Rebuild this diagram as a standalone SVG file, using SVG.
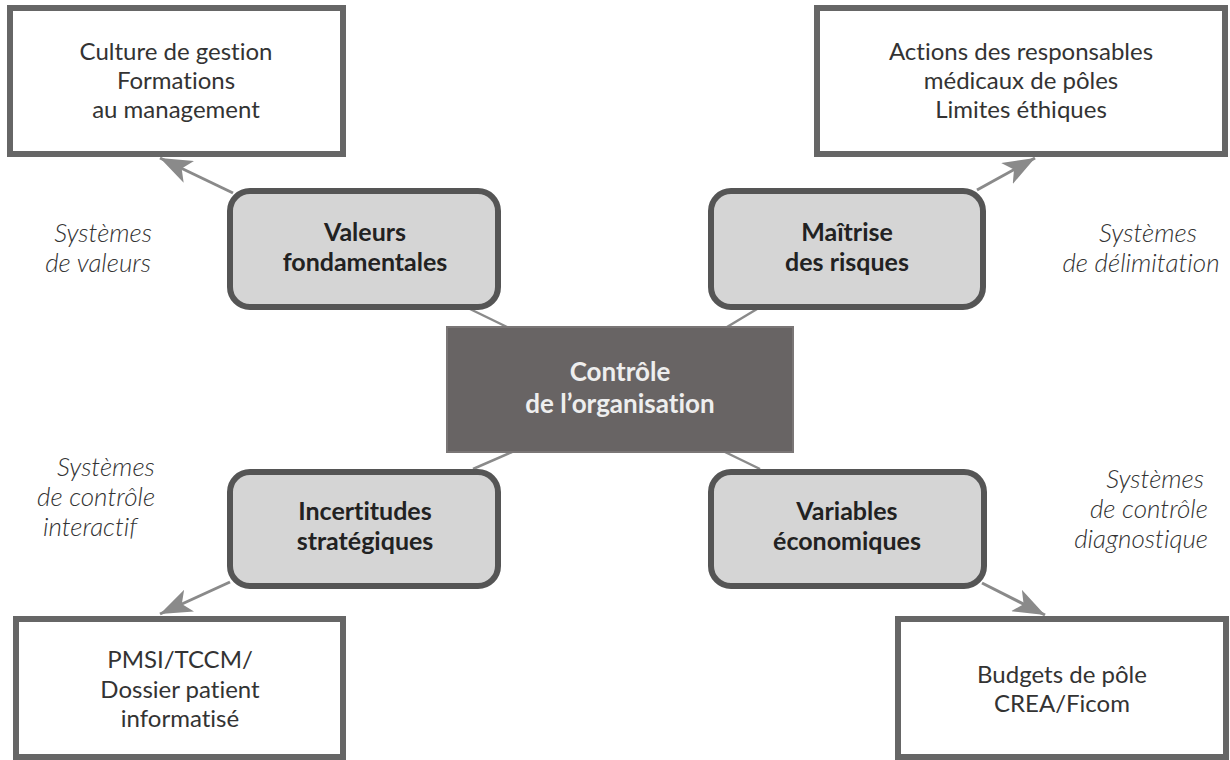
<svg xmlns="http://www.w3.org/2000/svg" width="1230" height="760" viewBox="0 0 1230 760">
  <style>
    text { font-variant-ligatures: none; font-family: Lato, "Open Sans", sans-serif; }
    .outer { fill: #ffffff; stroke: #666666; stroke-width: 6; }
    .inner { fill: #d5d5d5; stroke: #555555; stroke-width: 6; }
    .core { fill: #686464; stroke: #7a7676; stroke-width: 2; }
    .txt { font-size: 24px; fill: #333333; text-anchor: middle; }
    .bold { font-size: 25px; font-weight: bold; fill: #222222; text-anchor: middle; }
    .corelbl { font-size: 26px; font-weight: bold; fill: #eeeeee; text-anchor: middle; }
    .ital { font-size: 26px; font-style: italic; font-weight: 300; fill: #333333; }
    .link { stroke: #8a8a8a; stroke-width: 2.5; fill: none; }
    .arrow { stroke: #8a8a8a; stroke-width: 3; fill: none; marker-end: url(#head); }
  </style>
  <defs>
    <marker id="head" viewBox="0 0 32 24" refX="32" refY="12" markerWidth="32" markerHeight="24" markerUnits="userSpaceOnUse" orient="auto">
      <path d="M0,0 L32,12 L0,24 L8,12 Z" fill="#8a8a8a"/>
    </marker>
  </defs>

  <rect width="1230" height="760" fill="#ffffff"/>

  <!-- connectors -->
  <g id="connectors">
    <line class="link" x1="470" y1="309" x2="507" y2="327"/>
    <line class="link" x1="757" y1="309" x2="727" y2="327"/>
    <line class="link" x1="512" y1="452" x2="473" y2="469"/>
    <line class="link" x1="725" y1="452" x2="760" y2="469"/>
    <line class="arrow" x1="233" y1="193" x2="160" y2="158"/>
    <line class="arrow" x1="977" y1="190" x2="1035" y2="158"/>
    <line class="arrow" x1="230" y1="582" x2="160" y2="614"/>
    <line class="arrow" x1="982" y1="583" x2="1045" y2="615"/>
  </g>

  <!-- outer boxes -->
  <g id="box-culture">
    <rect class="outer" x="10" y="8" width="333" height="146"/>
    <text class="txt" x="176" y="60">Culture de gestion</text>
    <text class="txt" x="176" y="89">Formations</text>
    <text class="txt" x="176" y="118">au management</text>
  </g>
  <g id="box-actions">
    <rect class="outer" x="817" y="8" width="408" height="146"/>
    <text class="txt" x="1021" y="60">Actions des responsables</text>
    <text class="txt" x="1021" y="89">médicaux de pôles</text>
    <text class="txt" x="1021" y="118">Limites éthiques</text>
  </g>
  <g id="box-pmsi">
    <rect class="outer" x="16" y="619" width="327" height="138"/>
    <text class="txt" x="180" y="668">PMSI/TCCM/</text>
    <text class="txt" x="180" y="698">Dossier patient</text>
    <text class="txt" x="180" y="727">informatisé</text>
  </g>
  <g id="box-budgets">
    <rect class="outer" x="898" y="619" width="328" height="138"/>
    <text class="txt" x="1062" y="683">Budgets de pôle</text>
    <text class="txt" x="1062" y="712">CREA/Ficom</text>
  </g>

  <!-- levers -->
  <g id="node-valeurs">
    <rect class="inner" x="230" y="191" width="268" height="116" rx="20"/>
    <text class="bold" x="365" y="241">Valeurs</text>
    <text class="bold" x="365" y="271">fondamentales</text>
  </g>
  <g id="node-maitrise">
    <rect class="inner" x="711" y="191" width="272" height="116" rx="20"/>
    <text class="bold" x="847" y="241">Maîtrise</text>
    <text class="bold" x="847" y="271">des risques</text>
  </g>
  <g id="node-incertitudes">
    <rect class="inner" x="230" y="472" width="268" height="114" rx="20"/>
    <text class="bold" x="365" y="520">Incertitudes</text>
    <text class="bold" x="365" y="550">stratégiques</text>
  </g>
  <g id="node-variables">
    <rect class="inner" x="711" y="472" width="273" height="114" rx="20"/>
    <text class="bold" x="847" y="520">Variables</text>
    <text class="bold" x="847" y="550">économiques</text>
  </g>

  <!-- centre -->
  <g id="node-controle">
    <rect class="core" x="447" y="327" width="346" height="125"/>
    <text class="corelbl" x="620" y="381">Contrôle</text>
    <text class="corelbl" x="620" y="413">de l’organisation</text>
  </g>

  <!-- system labels -->
  <g id="label-valeurs">
    <text class="ital" x="152" y="242" text-anchor="end">Systèmes</text>
    <text class="ital" x="151" y="272" text-anchor="end">de valeurs</text>
  </g>
  <g id="label-delimitation">
    <text class="ital" x="1148" y="242" text-anchor="middle">Systèmes</text>
    <text class="ital" x="1141" y="272" text-anchor="middle">de délimitation</text>
  </g>
  <g id="label-interactif">
    <text class="ital" x="57" y="476">Systèmes</text>
    <text class="ital" x="37" y="506">de contrôle</text>
    <text class="ital" x="43" y="536">interactif</text>
  </g>
  <g id="label-diagnostique">
    <text class="ital" x="1204" y="488" text-anchor="end">Systèmes</text>
    <text class="ital" x="1208" y="518" text-anchor="end">de contrôle</text>
    <text class="ital" x="1208" y="548" text-anchor="end">diagnostique</text>
  </g>
</svg>
